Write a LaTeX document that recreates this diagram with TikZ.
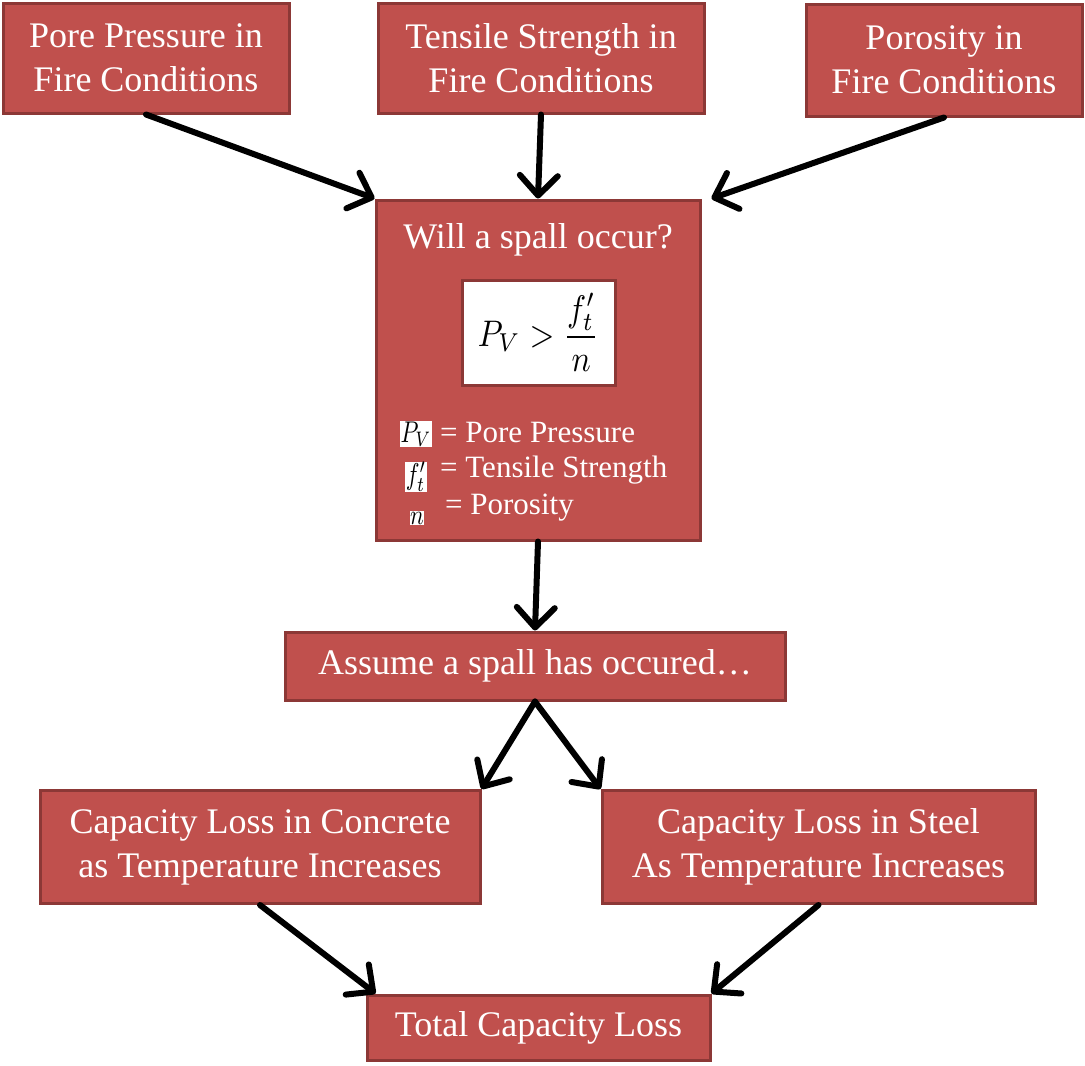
\documentclass[tikz,border=0pt]{standalone}
\usepackage{fontspec}
\setmainfont{Liberation Serif}
\usetikzlibrary{arrows.meta}
\definecolor{boxfill}{HTML}{C0504D}
\definecolor{boxedge}{HTML}{8C3836}
\begin{document}
\begin{tikzpicture}[x=1pt,y=-1pt,
  redbox/.style={draw=boxedge, fill=boxfill, line width=3pt, text=white,
    font=\fontsize{36}{44}\selectfont, align=center, inner sep=0pt},
  txt/.style={text=white, inner sep=0pt, align=left},
  symbox/.style={fill=white, inner sep=0.5pt},
  flow/.style={line width=6pt, line cap=round,
    -{Straight Barb[length=20pt,width=38pt,line cap=round,line join=round]}}
]
\useasboundingbox (0,0) rectangle (1085,1066);

\node[redbox, minimum width=286, minimum height=110] (pore) at (146,58)
  {Pore Pressure in\\Fire Conditions};
\node[redbox, minimum width=326, minimum height=110] (tensile) at (541,58)
  {Tensile Strength in\\Fire Conditions};
\node[redbox, minimum width=276, minimum height=112] (porosity) at (944,60)
  {Porosity in\\Fire Conditions};

\node[redbox, minimum width=324, minimum height=340] (spall) at (538,370) {};
\node[txt, font=\fontsize{36}{44}\selectfont] (title) at (538,240) {Will a spall occur?};
\node[draw=boxedge, fill=white, line width=3pt, minimum width=153, minimum height=105,
  inner sep=0pt] (formula) at (538.5,332.5)
  {\scalebox{3.2}[3.7]{$\displaystyle P_V > \frac{f_t'}{n}$}};

\node[symbox] (s1) at (416,434) {\scalebox{2.3}[3.0]{$P_V$}};
\node[symbox] (s2) at (416,477) {\scalebox{2.3}[3.0]{$f_t'$}};
\node[symbox] (s3) at (417,518) {\scalebox{2.3}[2.8]{$n$}};
\node[txt, anchor=west, font=\fontsize{31}{34}\selectfont] (l1) at (440,432) {= Pore Pressure};
\node[txt, anchor=west, font=\fontsize{31}{34}\selectfont] (l2) at (440,470) {= Tensile Strength};
\node[txt, anchor=west, font=\fontsize{31}{34}\selectfont] (l3) at (445,508) {= Porosity};

\node[redbox, minimum width=500, minimum height=68] (assume) at (535,666)
  {Assume a spall has occured\ldots};
\node[redbox, minimum width=440, minimum height=113] (concrete) at (260,847)
  {Capacity Loss in Concrete\\as Temperature Increases};
\node[redbox, minimum width=433, minimum height=113] (steel) at (818.5,847)
  {Capacity Loss in Steel\\As Temperature Increases};
\node[redbox, minimum width=343, minimum height=65] (total) at (538.5,1027.5)
  {Total Capacity Loss};

\draw[flow] (pore.south) -- (spall.north west);
\draw[flow] (tensile.south) -- (spall.north);
\draw[flow] (porosity.south) -- ([xshift=10pt]spall.north east);
\draw[flow] (spall.south) -- (assume.north);
\draw[flow] (assume.south) -- (concrete.north east);
\draw[flow] (assume.south) -- (steel.north west);
\draw[flow] (concrete.south) -- ([xshift=10pt]total.north west);
\draw[flow] (steel.south) -- (total.north east);
\end{tikzpicture}
\end{document}
